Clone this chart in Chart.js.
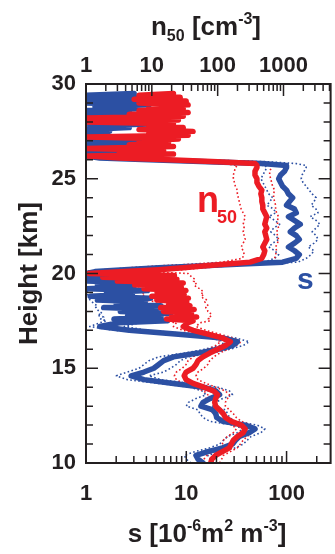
<!DOCTYPE html>
<html>
<head>
<meta charset="utf-8">
<script src="https://cdn.jsdelivr.net/npm/chart.js@4/dist/chart.umd.min.js"></script>
<style>
  html, body { margin: 0; padding: 0; background: #fff; }
  canvas { display: block; }
</style>
</head>
<body>
<canvas id="profileChart" width="335" height="554"></canvas>
<script>
// heights [km] of the profile points (coarse where smooth, fine where noisy)
const heights = [
  10.0, 10.2, 10.4, 10.6, 10.8, 11.0, 11.2, 11.4, 11.6, 11.8, 12.0, 12.2, 12.4, 12.6, 12.8, 13.0, 13.2, 13.4, 13.6,
  13.8, 14.0, 14.2, 14.4, 14.6, 14.8, 15.0, 15.2, 15.4, 15.6, 15.8, 16.0, 16.2, 16.4, 16.6, 16.8, 17.0, 17.2, 17.4,
  17.5, 17.6, 17.7, 17.8, 17.9, 18.0, 18.1, 18.2, 18.3, 18.4, 18.5, 18.6, 18.7, 18.8, 18.9, 19.0, 19.1, 19.2, 19.3,
  19.4, 19.5, 19.6, 19.7, 19.8, 19.9, 20.0,
  20.1, 20.2, 20.3, 20.4, 20.5, 20.6,
  20.8, 21.0, 21.2, 21.4, 21.6, 21.8, 22.0, 22.2, 22.4, 22.6, 22.8, 23.0, 23.2, 23.4, 23.6, 23.8, 24.0, 24.2, 24.4,
  24.6, 24.8, 25.0, 25.2, 25.4, 25.6,
  25.7, 25.8, 25.9, 26.0, 26.1, 26.2,
  26.3, 26.4, 26.5, 26.6, 26.7, 26.8, 26.9, 27.0, 27.1, 27.2, 27.3, 27.4, 27.5, 27.6, 27.7, 27.8, 27.9, 28.0, 28.1,
  28.2, 28.3, 28.4, 28.5, 28.6, 28.7, 28.8, 28.9, 29.0, 29.1, 29.2, 29.3, 29.4, 29.5
];

// s [1e-6 m2 m-3], bottom axis
const sMid = [
  14.7, 13.1, 12.5, 16.4, 23.0, 28.9, 30.9, 33.8, 42.4, 48.5, 38.7, 23.0, 20.1, 19.7, 18.4, 14.0, 14.7, 17.2, 21.5,
  19.7, 14.7, 7.45, 3.79, 2.82, 3.79, 4.74, 5.31, 5.95, 7.45, 13.1, 20.6, 28.9, 32.3, 23.0, 8.34, 2.70, 1.37, 2.15,
  6.4, 1.9, 5.6, 2.6, 7.0, 2.2, 5.0, 1.5, 5.6, 2.0, 3.9, 1.3, 4.4, 1.1, 2.9, 1.6, 4.1, 1.02, 3.0,
  1.3, 3.6, 1.02, 2.4, 1.0, 3.0, 1.0,
  1.23, 2.41, 5.31, 13.1, 36.2, 91.2,
  125, 134, 120, 104.5, 120, 134, 125, 109, 120, 137, 120, 104.5, 125, 120, 99.9, 107, 115, 104.5, 99.9,
  91.2, 87.2, 83.4, 87.2, 95.5, 99.9,
  99.9, 56.8, 16.4, 4.24, 1.37, 1.02,
  4.24, 1.0, 3.38, 1.0, 2.70, 1.0, 3.62, 1.0, 3.79, 1.0, 1.37, 1.0, 1.72, 1.0, 2.70, 1.09, 5.31, 1.0, 4.24,
  1.0, 2.41, 1.0, 2.70, 1.0, 3.38, 1.23, 4.24, 1.0, 4.44, 1.0, 3.38, 1.0, 3.02
];
const sLow = [
  11.2, 10.0, 9.55, 12.2, 17.2, 21.5, 23.5, 25.8, 32.3, 37.0, 29.6, 17.2, 14.7, 13.7, 13.1, 10.0, 10.5, 12.5, 15.7,
  14.4, 11.0, 5.31, 2.58, 2.01, 2.58, 3.38, 3.79, 4.24, 5.31, 9.55, 15.0, 21.5, 24.6, 17.2, 5.95, 1.92, 1.09, 1.37,
  1.6, 1.4, 1.5, 1.3, 1.45, 1.35, 1.3, 1.25, 1.3, 1.2, 1.15, 1.1, 1.05, 1.1, 1.02, 1.05, 1.0, 1.02, 1.0,
  1.0, 1.0, 1.0, 1.0, 1.0, 1.0, 1.0,
  1.0, 1.5, 3.0, 8.0, 25, 60,
  76.2, 83.4, 76.2, 66.5, 72.8, 83.4, 77.9, 69.6, 74.5, 85.3, 76.2, 66.5, 77.9, 74.5, 63.6, 68.0, 72.8, 66.5, 63.6,
  60.8, 58.1, 55.5, 58.1, 60.8, 63.6,
  60.8, 32.3, 10.5, 2.70, 1.23, null
];
const sHigh = [
  18.4, 17.2, 16.4, 21.5, 30.9, 37.0, 40.5, 44.3, 55.5, 60.8, 50.7, 30.9, 27.0, 25.8, 24.6, 18.4, 19.7, 23.0, 28.9,
  27.0, 20.6, 11.0, 5.55, 4.24, 5.95, 6.97, 7.97, 8.72, 10.5, 18.0, 27.0, 37.0, 42.4, 30.9, 11.7, 4.06, 2.41, 3.38,
  8.3, 7.6, 8.6, 7.9, 8.2, 7.4, 7.0, 6.6, 7.1, 6.4, 6.8, 6.2, 5.6, 5.2, 5.7, 5.0, 5.4, 4.9, 4.6,
  4.2, 4.5, 4.0, 4.3, 3.8, 3.6, 3.0,
  1.6, 3.4, 7.0, 20, 55, 130,
  157, 176, 188, 164, 188, 206, 197, 180, 197, 215, 197, 172, 206, 197, 176, 188, 197, 180, 168,
  157, 146, 140, 143, 150, 157,
  157, 125, 63.6, 13.1, 3.38, null
];

// n50 [cm-3], top axis
const nMid = [
  78.5, 81.3, 93.2, 118, 151, 161, 173, 199, 244, 262, 228, 161, 131, 122, 107, 93.2, 90.1, 93.2, 99.8,
  87.0, 61.7, 42.3, 33.2, 31.0, 33.2, 42.3, 46.9, 50.2, 59.6, 75.8, 99.8, 131, 156, 118, 70.8, 42.3, 30.0, 35.6,
  42.3, 16.7, 48, 20, 40, 15, 44, 13.6, 38, 18, 34, 11.9, 36, 10, 31, 12, 33, 7.6, 28,
  5.5, 30, 3.0, 24, 1.8, 22, 1.1,
  3.82, 12.7, 30.0, 59.6, 141, 311,
  469, 502, 520, 485, 520, 557, 538, 520, 557, 520, 538, 557, 520, 485, 485, 469, 469, 453, 469,
  423, 395, 395, 369, 369, 395,
  395, 369, 99.8, 17.9, 3.21, 1.07,
  21.3, 3.21, 15.1, 1.0, 21.3, 4.53, 17.9, 6.39, 25.3, 1.0, 35.6, 9.0, 42.3, 6.39, 30.0, 9.0, 21.3, 1.0, 25.3,
  1.0, 30.0, 4.53, 35.6, 6.39, 30.0, 9.0, 35.6, 6.39, 33.3, 5.38, 27.0, 6.39, 21.3
];
const nLow = [
  59.6, 61.7, 68.4, 84.1, 107, 118, 122, 141, 173, 192, 167, 118, 93.2, 87.0, 75.8, 66.1, 63.8, 66.1, 70.8,
  61.7, 43.8, 30.0, 23.6, 22.0, 23.6, 29.0, 33.2, 35.6, 42.3, 53.8, 70.8, 93.2, 111, 84.1, 50.2, 30.0, 21.3, 23.6,
  13.5, 12.0, 13.0, 12.4, 13.8, 12.2, 12.9, 11.8, 12.6, 11.5, 12.0, 7.8, 7.2, 7.9, 7.0, 7.6, 6.9, 7.4, 3.4,
  3.0, 3.3, 2.9, 3.1, 2.7, 2.5, 1.36,
  1.0, 1.92, 4.53, 12.7, 42.3, 118,
  236, 253, 244, 228, 244, 262, 253, 244, 253, 244, 253, 262, 244, 228, 220, 213, 206, 199, 199,
  186, 180, 173, 173, 180, 186,
  199, 118, 30.0, 6.39, 1.62, null
];
const nHigh = [
  107, 115, 122, 156, 199, 221, 244, 280, 333, 369, 321, 228, 192, 173, 151, 131, 131, 141, 151,
  131, 93.2, 66.1, 50.2, 46.9, 50.2, 61.7, 70.8, 75.8, 87.0, 107, 141, 192, 228, 173, 107, 66.1, 46.9, 53.8,
  76, 72, 80, 74, 78, 71, 70, 66, 72, 68, 64, 69, 60, 56, 62, 55, 58, 53, 47,
  44, 48, 43, 45, 41, 38, 35.6,
  9.0, 30.0, 59.6, 141, 333, 661,
  733, 759, 785, 759, 812, 841, 812, 785, 841, 812, 812, 841, 785, 759, 759, 733, 708, 708, 733,
  685, 661, 639, 617, 617, 661,
  685, 557, 199, 42.3, 6.39, null
];

// axis ticks
const sTicks = [1, 2, 3, 4, 5, 6, 7, 8, 9, 10, 20, 30, 40, 50, 60, 70, 80, 90, 100, 200];
const sTickLabels = [1, 10, 100];
const nTicks = [1, 2, 3, 4, 5, 6, 7, 8, 9, 10, 20, 30, 40, 50, 60, 70, 80, 90, 100, 200, 300, 400, 500, 600, 700,
  800, 900, 1000, 2000, 3000, 4000, 5000];
const nTickLabels = [1, 10, 100, 1000];
const heightTicks = [10, 15, 20, 25, 30];

const FONT = '"Liberation Sans", Arial, sans-serif';
const RED = '#ec1c24';
const BLUE = '#2c50a3';
const INK = '#231f20';

function profile(vals, axis, color, width, order, dash) {
  return {
    data: vals.map((v, i) => ({ x: v, y: heights[i] })).filter(p => p.x != null),
    xAxisID: axis,
    yAxisID: 'y',
    showLine: true,
    fill: false,
    borderColor: color,
    backgroundColor: color,
    borderWidth: width,
    borderDash: dash || [],
    borderJoinStyle: 'round',
    borderCapStyle: dash ? 'butt' : 'round',
    pointRadius: 0,
    pointHoverRadius: 0,
    tension: 0,
    clip: 0,
    order: order
  };
}

// text with sub/superscripts: parts = [text, size, dy]
function richText(ctx, parts, cx, baseY, color) {
  let total = 0;
  parts.forEach(p => {
    ctx.font = 'bold ' + p[1] + 'px ' + FONT;
    total += ctx.measureText(p[0]).width;
  });
  let x = cx - total / 2;
  ctx.fillStyle = color;
  ctx.textAlign = 'left';
  ctx.textBaseline = 'alphabetic';
  parts.forEach(p => {
    ctx.font = 'bold ' + p[1] + 'px ' + FONT;
    ctx.fillText(p[0], x, baseY + (p[2] || 0));
    x += ctx.measureText(p[0]).width;
  });
}

const frameTicks = {
  id: 'frameTicks',
  afterDraw(chart) {
    const { ctx, chartArea: a } = chart;
    const { x, x2, y } = chart.scales;
    const decade = v => Math.abs(Math.log10(v) - Math.round(Math.log10(v))) < 1e-6;
    ctx.save();
    ctx.strokeStyle = INK;
    ctx.lineWidth = 1.5;
    ctx.beginPath();
    x.ticks.forEach(t => {
      const p = x.getPixelForValue(t.value);
      const len = decade(t.value) ? 12 : 7;
      ctx.moveTo(p, a.bottom);
      ctx.lineTo(p, a.bottom - len);
    });
    x2.ticks.forEach(t => {
      const p = x2.getPixelForValue(t.value);
      const len = decade(t.value) ? 12 : 7;
      ctx.moveTo(p, a.top);
      ctx.lineTo(p, a.top + len);
    });
    for (let h = y.min; h <= y.max; h++) {
      const p = y.getPixelForValue(h);
      const len = h % 5 === 0 ? 12 : 7;
      ctx.moveTo(a.left, p);
      ctx.lineTo(a.left + len, p);
      ctx.moveTo(a.right, p);
      ctx.lineTo(a.right - len, p);
    }
    ctx.stroke();
    ctx.lineWidth = 2;
    ctx.strokeRect(a.left, a.top, a.right - a.left, a.bottom - a.top);

    // axis titles
    richText(ctx, [['n', 26], ['50', 16, 6], [' [cm', 26], ['-3', 16, -11], [']', 26]], 206, 35, INK);
    richText(ctx, [['s [10', 26], ['-6', 16, -11], ['m', 26], ['2', 16, -11], [' m', 26], ['-3', 16, -11], [']', 26]],
      207, 542, INK);
    ctx.save();
    ctx.translate(37, (a.top + a.bottom) / 2);
    ctx.rotate(-Math.PI / 2);
    richText(ctx, [['Height [km]', 26]], 0, 0, INK);
    ctx.restore();

    // series labels
    ctx.fillStyle = RED;
    ctx.font = 'bold 36px ' + FONT;
    ctx.fillText('n', 197, 212);
    ctx.font = 'bold 18px ' + FONT;
    ctx.fillText('50', 217, 223);
    ctx.fillStyle = BLUE;
    ctx.font = 'bold 30px ' + FONT;
    ctx.fillText('s', 297, 289);
    ctx.restore();
  }
};

const tickFont = { family: FONT, size: 22, weight: 'bold' };

const ctx = document.getElementById('profileChart').getContext('2d');
new Chart(ctx, {
  type: 'scatter',
  data: {
    datasets: [
      profile(nMid, 'x2', RED, 5.5, 0),
      profile(sMid, 'x', BLUE, 5.5, 1),
      profile(nLow, 'x2', RED, 1.6, 2, [1.6, 2.4]),
      profile(nHigh, 'x2', RED, 1.6, 2, [1.6, 2.4]),
      profile(sLow, 'x', BLUE, 1.6, 3, [1.6, 2.4]),
      profile(sHigh, 'x', BLUE, 1.6, 3, [1.6, 2.4])
    ]
  },
  options: {
    responsive: false,
    animation: false,
    devicePixelRatio: 1,
    layout: { padding: 0 },
    plugins: { legend: { display: false }, tooltip: { enabled: false } },
    scales: {
      x: {
        type: 'logarithmic',
        position: 'bottom',
        min: 1,
        max: 275,
        grid: { display: false, drawTicks: false },
        border: { display: false },
        afterBuildTicks: sc => { sc.ticks = sTicks.map(v => ({ value: v })); },
        afterFit: sc => { sc.height = 91; },
        ticks: {
          autoSkip: false, maxRotation: 0, minRotation: 0, padding: 18, color: INK, font: tickFont,
          callback: v => sTickLabels.includes(v) ? String(v) : ''
        }
      },
      x2: {
        type: 'logarithmic',
        position: 'top',
        min: 1,
        max: 5200,
        grid: { display: false, drawTicks: false },
        border: { display: false },
        afterBuildTicks: sc => { sc.ticks = nTicks.map(v => ({ value: v })); },
        afterFit: sc => { sc.height = 84; },
        ticks: {
          autoSkip: false, maxRotation: 0, minRotation: 0, padding: 5, color: INK, font: tickFont,
          callback: v => nTickLabels.includes(v) ? String(v) : ''
        }
      },
      y: {
        type: 'linear',
        position: 'left',
        min: 10,
        max: 30,
        grid: { display: false, drawTicks: false },
        border: { display: false },
        afterBuildTicks: sc => { sc.ticks = heightTicks.map(v => ({ value: v })); },
        afterFit: sc => { sc.width = 86; },
        ticks: { autoSkip: false, padding: 10, color: INK, font: tickFont }
      }
    }
  },
  plugins: [frameTicks]
});
</script>
</body>
</html>
